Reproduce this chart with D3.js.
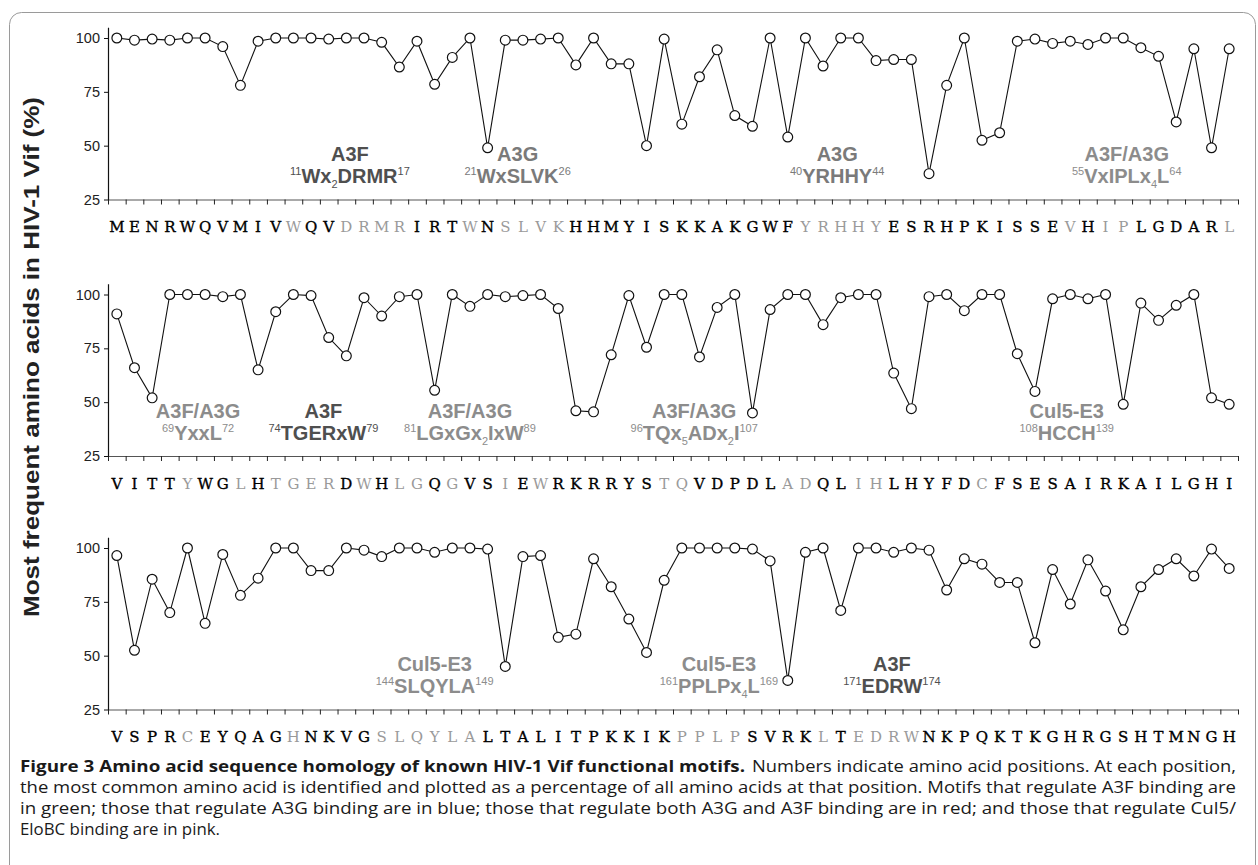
<!DOCTYPE html>
<html>
<head>
<meta charset="UTF-8"/>
<style>
  body { margin: 0; background: #fff; }
  svg { display: block; }
</style>
</head>
<body>
<svg width="1258" height="865"></svg>
<script src="https://d3js.org/d3.v7.min.js"></script>
<script>
// one row of 64 residues per panel
let seqRows = [
    "MENRWQVMIVWQVDRMRIRTWNSLVKHHMYISKKAKGWFYRHHYESRHPKISSEVHIPLGDARL",
    "VITTYWGLHTGERDWHLGQGVSIEWRKRRYSTQVDPDLADQLIHLHYFDCFSESAIRKAILGHI",
    "VSPRCEYQAGHNKVGSLQYLALTALITPKKIKPPLPSVRKLTEDRWNKPQKTKGHRGSHTMNGH"
];

// % most frequent amino acid, positions 1-64, 65-128, 129-192
let vals1 = [100, 99, 99.5, 99, 100, 100, 96, 78, 98.5, 100,
             100, 100, 99.5, 100, 100, 98, 86.5, 98.5, 78.5, 91,
             100, 49, 99, 99, 99.5, 100, 87.5, 100, 88, 88,
             50, 99.5, 60, 82, 94.5, 64, 59, 100, 54, 100,
             87, 100, 100, 89.5, 90, 90, 37, 78, 100, 52.5,
             56, 98.5, 99.5, 97.5, 98.5, 97, 100, 100, 95.5, 91.5,
             61, 95, 49, 95];
let vals2 = [91, 66, 52, 100, 100, 100, 99, 100, 65, 92,
             100, 99.5, 80, 71.5, 98.5, 90, 99, 100, 55.5, 100,
             94.5, 100, 99, 99.5, 100, 93.5, 46, 45.5, 72, 99.5,
             75.5, 100, 100, 71, 94, 100, 45, 93, 100, 100,
             86, 98.5, 100, 100, 63.5, 47, 99, 100, 92.5, 100,
             100, 72.5, 55, 98, 100, 98, 100, 49, 96, 88,
             95, 100, 52, 49];
let vals3 = [96.5, 52.5, 85.5, 70, 100, 65, 97, 78, 86, 100,
             100, 89.5, 89.5, 100, 99, 96, 100, 100, 98, 100,
             100, 99.5, 45, 96, 96.5, 58.5, 60, 95, 82, 67,
             51.5, 85, 100, 100, 100, 100, 99.5, 94, 38.5, 98,
             100, 71, 100, 100, 98, 100, 99, 80.5, 95, 92.5,
             84, 84, 56, 90, 74, 94.5, 80, 62, 82, 90,
             95, 87, 99.5, 90.5];
let valRows = [vals1, vals2, vals3];

// residue numbers that belong to a known motif (drawn in light grey)
let motifResidues = [11, 14, 15, 16, 17, 21, 23, 24, 25, 26, 40, 41, 42, 43, 44,
                     55, 57, 58, 64, 69, 72, 74, 75, 76, 77, 79, 81, 82, 84, 87, 89,
                     96, 97, 103, 104, 107, 108, 114, 133, 139,
                     144, 145, 146, 147, 148, 149, 161, 162, 163, 164, 169,
                     171, 172, 173, 174];

// motif annotations
let motifNames = ["A3F", "A3G", "A3G", "A3F/A3G",
                  "A3F/A3G", "A3F", "A3F/A3G", "A3F/A3G", "Cul5-E3",
                  "Cul5-E3", "Cul5-E3", "A3F"];
let motifRow = [0, 0, 0, 0, 1, 1, 1, 1, 1, 2, 2, 2];
let motifAt = [14.2, 23.7, 41.8, 58.2, 5.6, 12.7, 21.0, 33.7, 54.8, 19.0, 35.1, 44.9];
let motifText = [
    [["11", "sup"], ["Wx"], ["2", "sub"], ["DRMR"], ["17", "sup"]],
    [["21", "sup"], ["WxSLVK"], ["26", "sup"]],
    [["40", "sup"], ["YRHHY"], ["44", "sup"]],
    [["55", "sup"], ["VxIPLx"], ["4", "sub"], ["L"], ["64", "sup"]],
    [["69", "sup"], ["YxxL"], ["72", "sup"]],
    [["74", "sup"], ["TGERxW"], ["79", "sup"]],
    [["81", "sup"], ["LGxGx"], ["2", "sub"], ["IxW"], ["89", "sup"]],
    [["96", "sup"], ["TQx"], ["5", "sub"], ["ADx"], ["2", "sub"], ["I"], ["107", "sup"]],
    [["108", "sup"], ["HCCH"], ["139", "sup"]],
    [["144", "sup"], ["SLQYLA"], ["149", "sup"]],
    [["161", "sup"], ["PPLPx"], ["4", "sub"], ["L"], ["169", "sup"]],
    [["171", "sup"], ["EDRW"], ["174", "sup"]]
];
let motifColor = {"A3F": "#4f4f4f", "A3G": "#7a7a7a", "A3F/A3G": "#8c8c8c", "Cul5-E3": "#8c8c8c"};

let yTicks = [25, 50, 75, 100];

let captionBold = "Figure 3 Amino acid sequence homology of known HIV-1 Vif functional motifs.";
let captionLines = [
    "Numbers indicate amino acid positions. At each position,",
    "the most common amino acid is identified and plotted as a percentage of all amino acids at that position. Motifs that regulate A3F binding are",
    "in green; those that regulate A3G binding are in blue; those that regulate both A3G and A3F binding are in red; and those that regulate Cul5/",
    "EloBC binding are in pink."
];

let svg = d3.select("svg");

// frame
svg.append("rect")
    .attr("x", 9.5).attr("y", 12.5)
    .attr("width", 1246).attr("height", 900)
    .attr("rx", 12)
    .attr("fill", "none")
    .attr("stroke", "#9a9a9a")
    .attr("stroke-width", 1);

let x = d3.scaleLinear().domain([0.5, 64.5]).range([108, 1238]);
let panelTop = [38, 294.5, 548];
let plotH = 161.5;

panelTop.forEach(function(top, r) {
    let y = d3.scaleLinear().domain([25, 105]).range([plotH, plotH - 80 * plotH / 75]);
    let g = svg.append("g").attr("transform", "translate(0," + top + ")");

    // x axis
    let xa = g.append("g")
        .attr("transform", "translate(0," + plotH + ")")
        .call(d3.axisBottom(x).tickValues(d3.range(0.5, 65, 1)).tickSize(5).tickSizeOuter(0).tickFormat(""));
    xa.select(".domain").attr("stroke", "#555");
    xa.selectAll(".tick line").attr("stroke", "#222");

    // y axis
    let ya = g.append("g")
        .attr("transform", "translate(108,0)")
        .call(d3.axisLeft(y).tickValues(yTicks).tickSize(4).tickPadding(4).tickSizeOuter(0));
    ya.select(".domain").attr("stroke", "#111").attr("stroke-width", 1.2);
    ya.selectAll(".tick line").attr("stroke", "#111");
    ya.selectAll(".tick text")
        .attr("font-family", "Liberation Sans, Arial, sans-serif")
        .attr("font-size", 14.5)
        .attr("fill", "#222");

    // motif annotations
    motifNames.forEach(function(name, k) {
        if (motifRow[k] !== r) return;
        let cx = x(motifAt[k]);
        g.append("text")
            .attr("x", cx).attr("y", y(100) + 123)
            .attr("text-anchor", "middle")
            .attr("font-family", "Liberation Sans, Arial, sans-serif")
            .attr("font-weight", "bold")
            .attr("font-size", 20)
            .attr("fill", motifColor[name])
            .text(name);
        let t = g.append("text")
            .attr("x", cx).attr("y", y(100) + 145)
            .attr("text-anchor", "middle")
            .attr("font-family", "Liberation Sans, Arial, sans-serif")
            .attr("font-weight", "bold")
            .attr("font-size", 20)
            .attr("fill", motifColor[name]);
        let shift = 0;
        motifText[k].forEach(function(p) {
            let target = p[1] === "sup" ? -8 : (p[1] === "sub" ? 5 : 0);
            let ts = t.append("tspan").attr("dy", target - shift).text(p[0]);
            if (p[1]) ts.attr("font-size", 11).attr("font-weight", "normal");
            shift = target;
        });
    });

    // line and points
    let vals = valRows[r];
    g.append("path")
        .datum(vals)
        .attr("fill", "none")
        .attr("stroke", "#111")
        .attr("stroke-width", 1.1)
        .attr("d", d3.line().x(function(d, i) { return x(i + 1); }).y(function(d) { return y(d); }));
    g.selectAll("circle")
        .data(vals)
        .enter()
        .append("circle")
        .attr("cx", function(d, i) { return x(i + 1); })
        .attr("cy", function(d) { return y(d); })
        .attr("r", 4.9)
        .attr("fill", "#fff")
        .attr("stroke", "#111")
        .attr("stroke-width", 1.2);

    // residue letters
    g.selectAll("text.res")
        .data(seqRows[r].split(""))
        .enter()
        .append("text")
        .attr("class", "res")
        .attr("x", function(d, i) { return x(i + 1); })
        .attr("y", plotH + 32.5)
        .attr("text-anchor", "middle")
        .attr("font-family", "DejaVu Serif, serif")
        .attr("font-size", 15)
        .attr("fill", function(d, i) {
            return motifResidues.indexOf(r * 64 + i + 1) >= 0 ? "#9a9a9a" : "#000";
        })
        .attr("stroke", function(d, i) {
            return motifResidues.indexOf(r * 64 + i + 1) >= 0 ? "none" : "#000";
        })
        .attr("stroke-width", 0.35)
        .text(function(d) { return d; });
});

// y axis title
svg.append("text")
    .attr("transform", "translate(39,357) rotate(-90)")
    .attr("text-anchor", "middle")
    .attr("font-family", "Liberation Sans, Arial, sans-serif")
    .attr("font-weight", "bold")
    .attr("font-size", 22)
    .attr("fill", "#222")
    .attr("textLength", 520)
    .attr("lengthAdjust", "spacingAndGlyphs")
    .text("Most frequent amino acids in HIV-1 Vif (%)");

// caption
let cap = svg.append("g")
    .attr("font-family", "Open Sans, Noto Sans, sans-serif")
    .attr("font-size", 16.3)
    .attr("fill", "#1a1a1a");
cap.append("text")
    .attr("x", 20).attr("y", 772)
    .attr("font-weight", "bold")
    .attr("textLength", 725)
    .attr("lengthAdjust", "spacingAndGlyphs")
    .text(captionBold);
cap.append("text")
    .attr("x", 752).attr("y", 772)
    .attr("textLength", 484)
    .attr("lengthAdjust", "spacingAndGlyphs")
    .text(captionLines[0]);
let capLen = [1216, 1216, 200];
captionLines.slice(1).forEach(function(line, i) {
    cap.append("text")
        .attr("x", 20).attr("y", 793 + i * 21)
        .attr("textLength", capLen[i])
        .attr("lengthAdjust", "spacingAndGlyphs")
        .text(line);
});
</script>
</body>
</html>
